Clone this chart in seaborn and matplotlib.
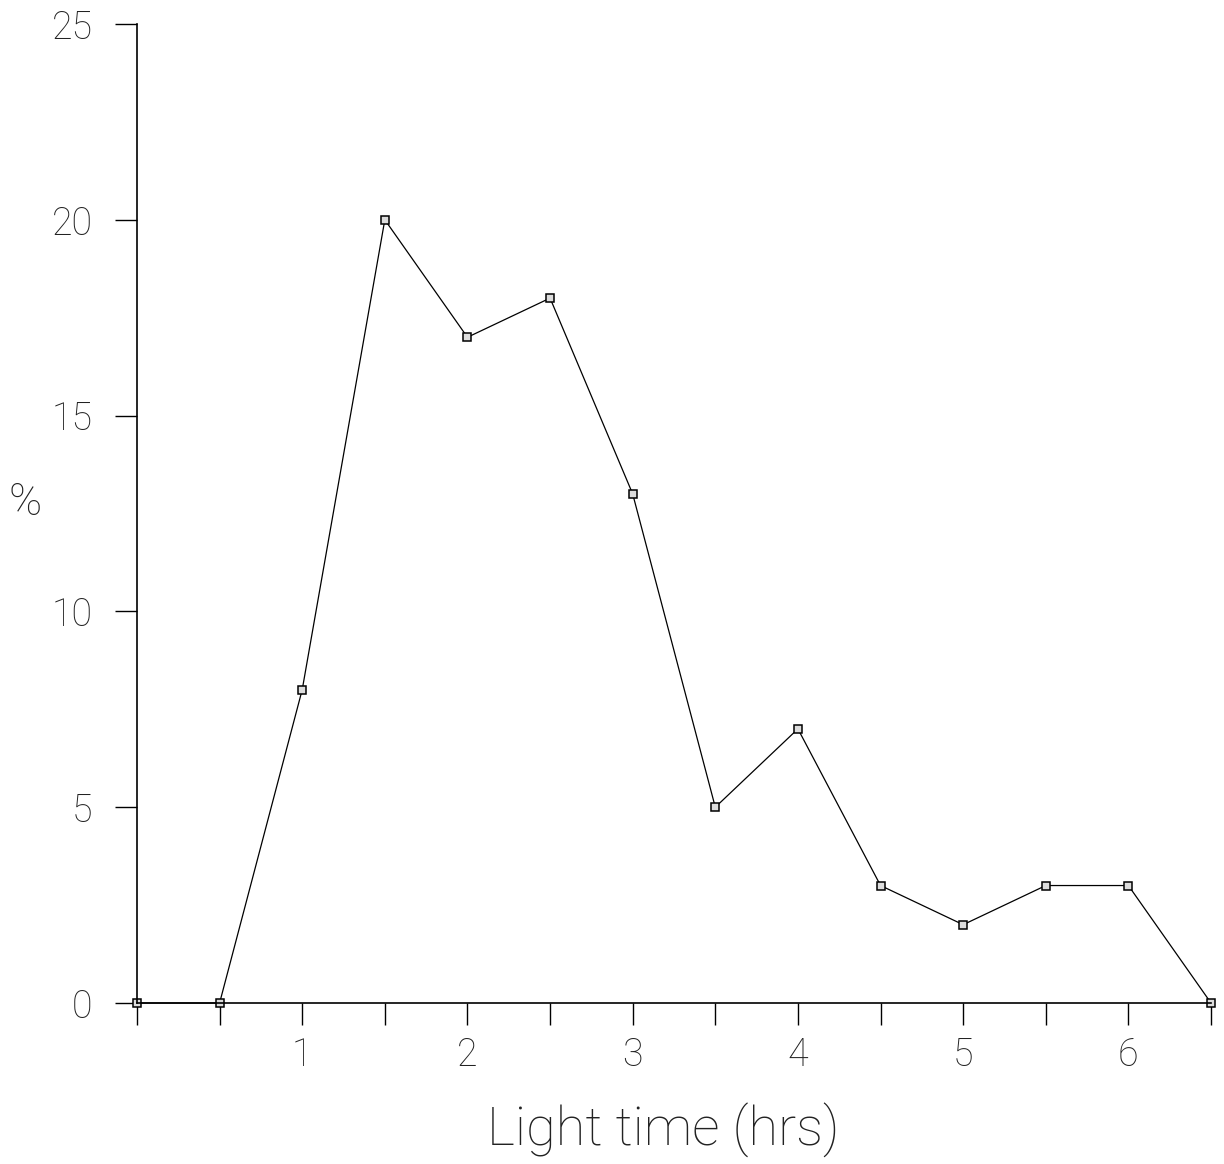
import matplotlib
matplotlib.use("Agg")
import matplotlib.pyplot as plt
import matplotlib.ticker as mticker
import seaborn as sns
import pandas as pd

hours = [0, 0.5, 1, 1.5, 2, 2.5, 3, 3.5, 4, 4.5, 5, 5.5, 6, 6.5]
percent = [0, 0, 8, 20, 17, 18, 13, 5, 7, 3, 2, 3, 3, 0]
x_labels = [1, 2, 3, 4, 5, 6]
y_ticks = [0, 5, 10, 15, 20, 25]

df = pd.DataFrame({"hours": hours, "percent": percent})

sns.set_style("ticks")
plt.rcParams["font.family"] = ["Roboto", "DejaVu Sans"]

fig = plt.figure(figsize=(12.24, 11.64), dpi=100)
ax = fig.add_axes([0.1119, 0.1383, 0.9894 - 0.1119, 0.9794 - 0.1383])

sns.lineplot(data=df, x="hours", y="percent", ax=ax, color="black", linewidth=0.9,
             marker="s", markersize=6, markerfacecolor="#dddddd",
             markeredgecolor="black", markeredgewidth=1.1, clip_on=False)

ax.set_xlim(0, 6.5)
ax.set_ylim(0, 25)
ax.xaxis.set_major_locator(mticker.FixedLocator(x_labels))
ax.xaxis.set_minor_locator(mticker.FixedLocator([0, 0.5, 1.5, 2.5, 3.5, 4.5, 5.5, 6.5]))
ax.yaxis.set_major_locator(mticker.FixedLocator(y_ticks))
ax.tick_params(axis="both", which="both", direction="out", length=16, width=1.0,
               color="black", labelsize=27, labelcolor="#222222")
ax.tick_params(axis="x", which="both", pad=8)
ax.tick_params(axis="y", which="both", pad=16)
for lab in ax.get_xticklabels() + ax.get_yticklabels():
    lab.set_fontweight("light")

for s in ["top", "right"]:
    ax.spines[s].set_visible(False)
for s in ["left", "bottom"]:
    ax.spines[s].set_color("black")
    ax.spines[s].set_linewidth(1.2)

ax.set_xlabel("Light time (hrs)", fontsize=39, fontweight="light", color="#222222",
              va="center", ha="center")
ax.xaxis.set_label_coords(0.49, -0.13)
ax.set_ylabel("%", fontsize=32, fontweight="light", color="#222222", rotation=0,
              va="center", ha="center")
ax.yaxis.set_label_coords(-0.104, 0.511)

fig.savefig("out.png", dpi=100, facecolor="white")
